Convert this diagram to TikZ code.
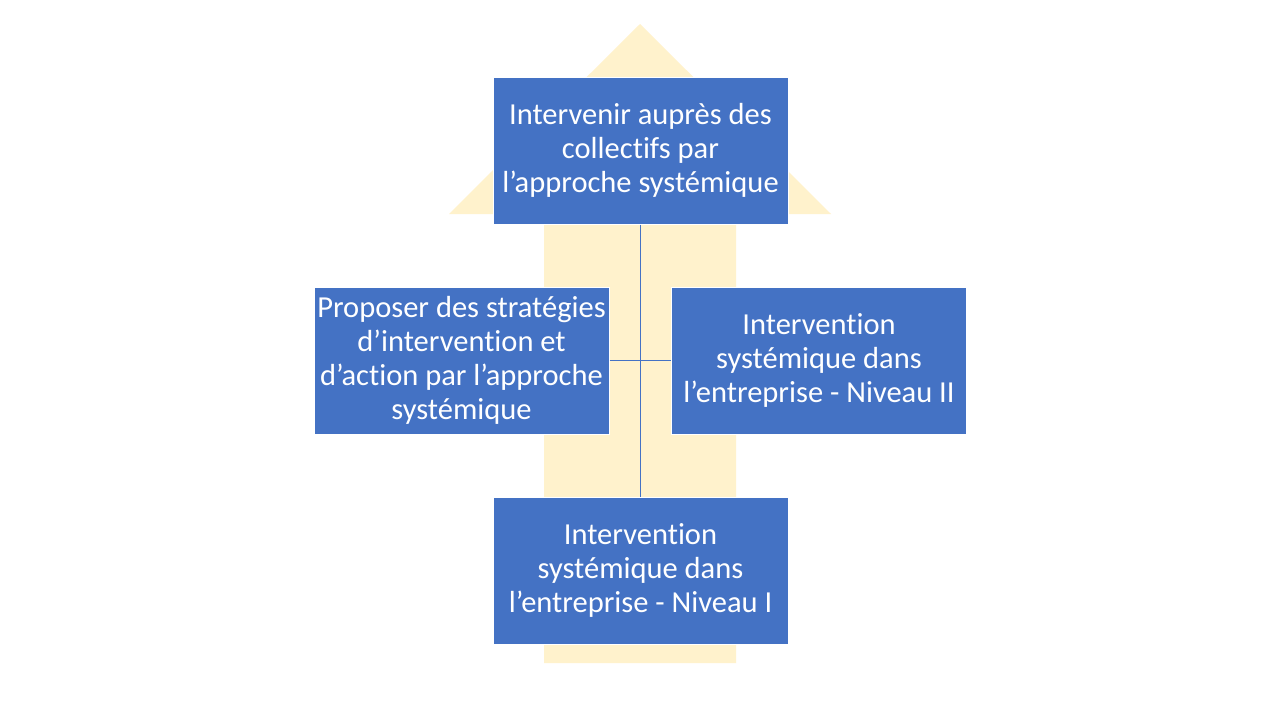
\documentclass[tikz,border=0pt]{standalone}
\usepackage{fontspec}
\setmainfont{Carlito}[Ligatures={NoCommon}]
\definecolor{boxblue}{HTML}{4472C4}
\definecolor{arrowyellow}{HTML}{FFF2CC}
\begin{document}
\begin{tikzpicture}[x=1pt,y=-1pt,
  box/.style={rectangle, fill=boxblue, draw=white, line width=1pt, minimum width=295pt, minimum height=147pt, inner sep=0pt, text=white, align=center, font=\fontsize{30.5}{34}\selectfont},
  link/.style={draw=boxblue, line width=0.9pt}]
\useasboundingbox (0,0) rectangle (1280,720);
\fill[white] (0,0) rectangle (1280,720);
\fill[arrowyellow] (544,663) -- (544,214) -- (449,214) -- (640,24) -- (831,214) -- (736,214) -- (736,663) -- cycle;
\node[box] (top) at (640.5,150.5) {Intervenir auprès des\\collectifs par\\l’approche systémique};
\node[box] (left) at (461.5,360.5) {Proposer des stratégies\\d’intervention et\\d’action par l’approche\\systémique};
\node[box] (right) at (819,360.5) {Intervention\\systémique dans\\l’entreprise - Niveau II};
\node[box] (bottom) at (640.5,570.5) {Intervention\\systémique dans\\l’entreprise - Niveau I};
\draw[link] (top.south) -- (bottom.north);
\draw[link] (left.east) -- (right.west);
\end{tikzpicture}
\end{document}
